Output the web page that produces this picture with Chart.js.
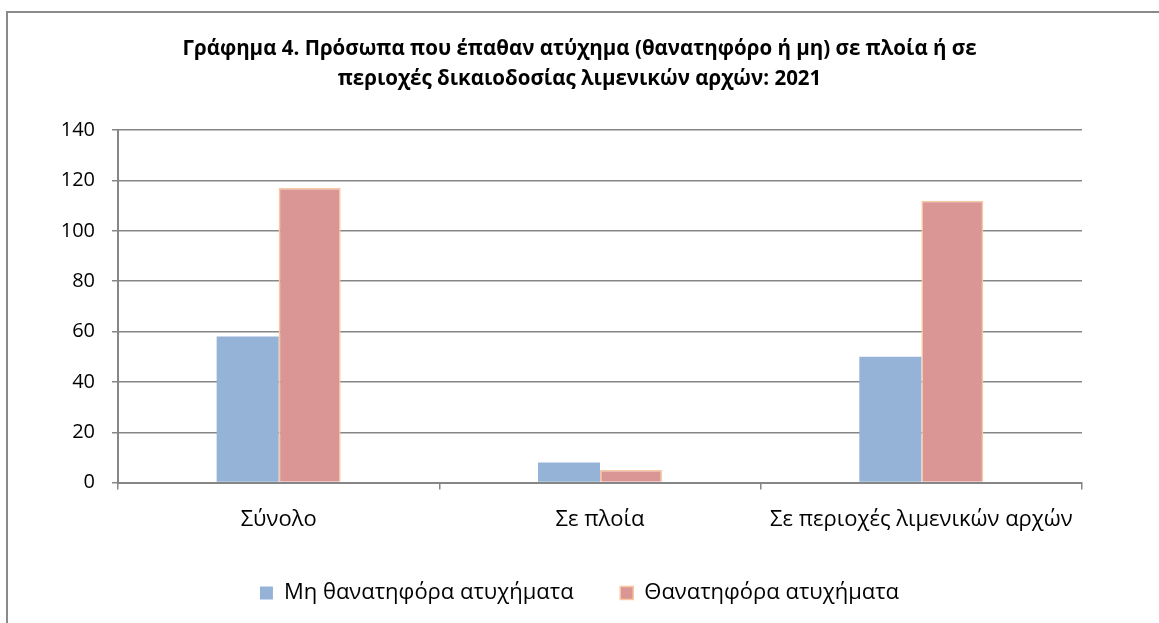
<!DOCTYPE html>
<html>
<head>
<meta charset="utf-8">
<script src="https://cdn.jsdelivr.net/npm/chart.js@4"></script>
<style>
  html, body { margin: 0; padding: 0; background: #fff; overflow: hidden; }
  #wrap { position: absolute; left: 0; top: 0; width: 1159px; height: 623px; }
  #frame { position: absolute; left: 6px; top: 11px; width: 1200px; height: 700px; border: 2px solid #8a8a8a; pointer-events: none; }
</style>
</head>
<body>
<div id="wrap"><canvas id="chart" width="1159" height="623"></canvas></div>
<div id="frame"></div>
<script>
const categories = ["Σύνολο", "Σε πλοία", "Σε περιοχές λιμενικών αρχών"];
const nonFatal = [58, 8, 50];
const fatal = [117, 5, 112];
const yTicks = [0, 20, 40, 60, 80, 100, 120, 140];

const font = "'Open Sans', 'Noto Sans', sans-serif";

const ctx = document.getElementById("chart").getContext("2d");
window.myChart = new Chart(ctx, {
    type: "bar",
    data: {
        labels: categories,
        datasets: [
            {
                label: "Μη θανατηφόρα ατυχήματα",
                data: nonFatal,
                backgroundColor: "#95B3D7",
                borderWidth: 0
            },
            {
                label: "Θανατηφόρα ατυχήματα",
                data: fatal,
                backgroundColor: "#D99694",
                borderColor: "#FAC8A0",
                borderWidth: 1.5
            }
        ]
    },
    options: {
        responsive: false,
        animation: false,
        categoryPercentage: 0.386,
        barPercentage: 1,
        layout: { padding: { left: 0, right: 0, top: 35, bottom: 9 } },
        plugins: {
            title: {
                display: true,
                text: ["Γράφημα 4. Πρόσωπα που έπαθαν ατύχημα (θανατηφόρο ή μη) σε πλοία ή σε",
                       "περιοχές δικαιοδοσίας λιμενικών αρχών: 2021"],
                color: "#000",
                font: { family: font, size: 20.5, weight: "bold", lineHeight: 1.42 },
                padding: { top: 0, bottom: 37 }
            },
            legend: {
                position: "bottom",
                labels: {
                    color: "#000",
                    font: { family: font, size: 22 },
                    boxWidth: 13,
                    boxHeight: 13,
                    padding: 32,
                    // a little extra room between the two legend entries
                    generateLabels: (chart) => {
                        const items = Chart.defaults.plugins.legend.labels.generateLabels(chart);
                        items[0].text += "\u2002\u2009";
                        return items;
                    }
                }
            },
            tooltip: { enabled: false }
        },
        scales: {
            x: {
                grid: { drawOnChartArea: false, drawTicks: true, tickLength: 7, color: "#868686", lineWidth: 1.5 },
                border: { color: "#868686", width: 2 },
                ticks: { color: "#000", font: { family: font, size: 22 }, padding: 17 }
            },
            y: {
                min: 0,
                max: 140,
                afterBuildTicks: (axis) => { axis.ticks = yTicks.map(v => ({ value: v })); },
                afterFit: (axis) => { axis.width = 118; },
                grid: { color: "#868686", lineWidth: 1.5, tickLength: 6 },
                border: { color: "#868686", width: 2 },
                ticks: { color: "#000", font: { family: font, size: 20 }, padding: 17 }
            },
            yRight: {
                position: "right",
                display: true,
                grid: { display: false, drawTicks: false },
                border: { display: false },
                ticks: { display: false },
                afterFit: (axis) => { axis.width = 77; }
            }
        }
    }
});
</script>
</body>
</html>
